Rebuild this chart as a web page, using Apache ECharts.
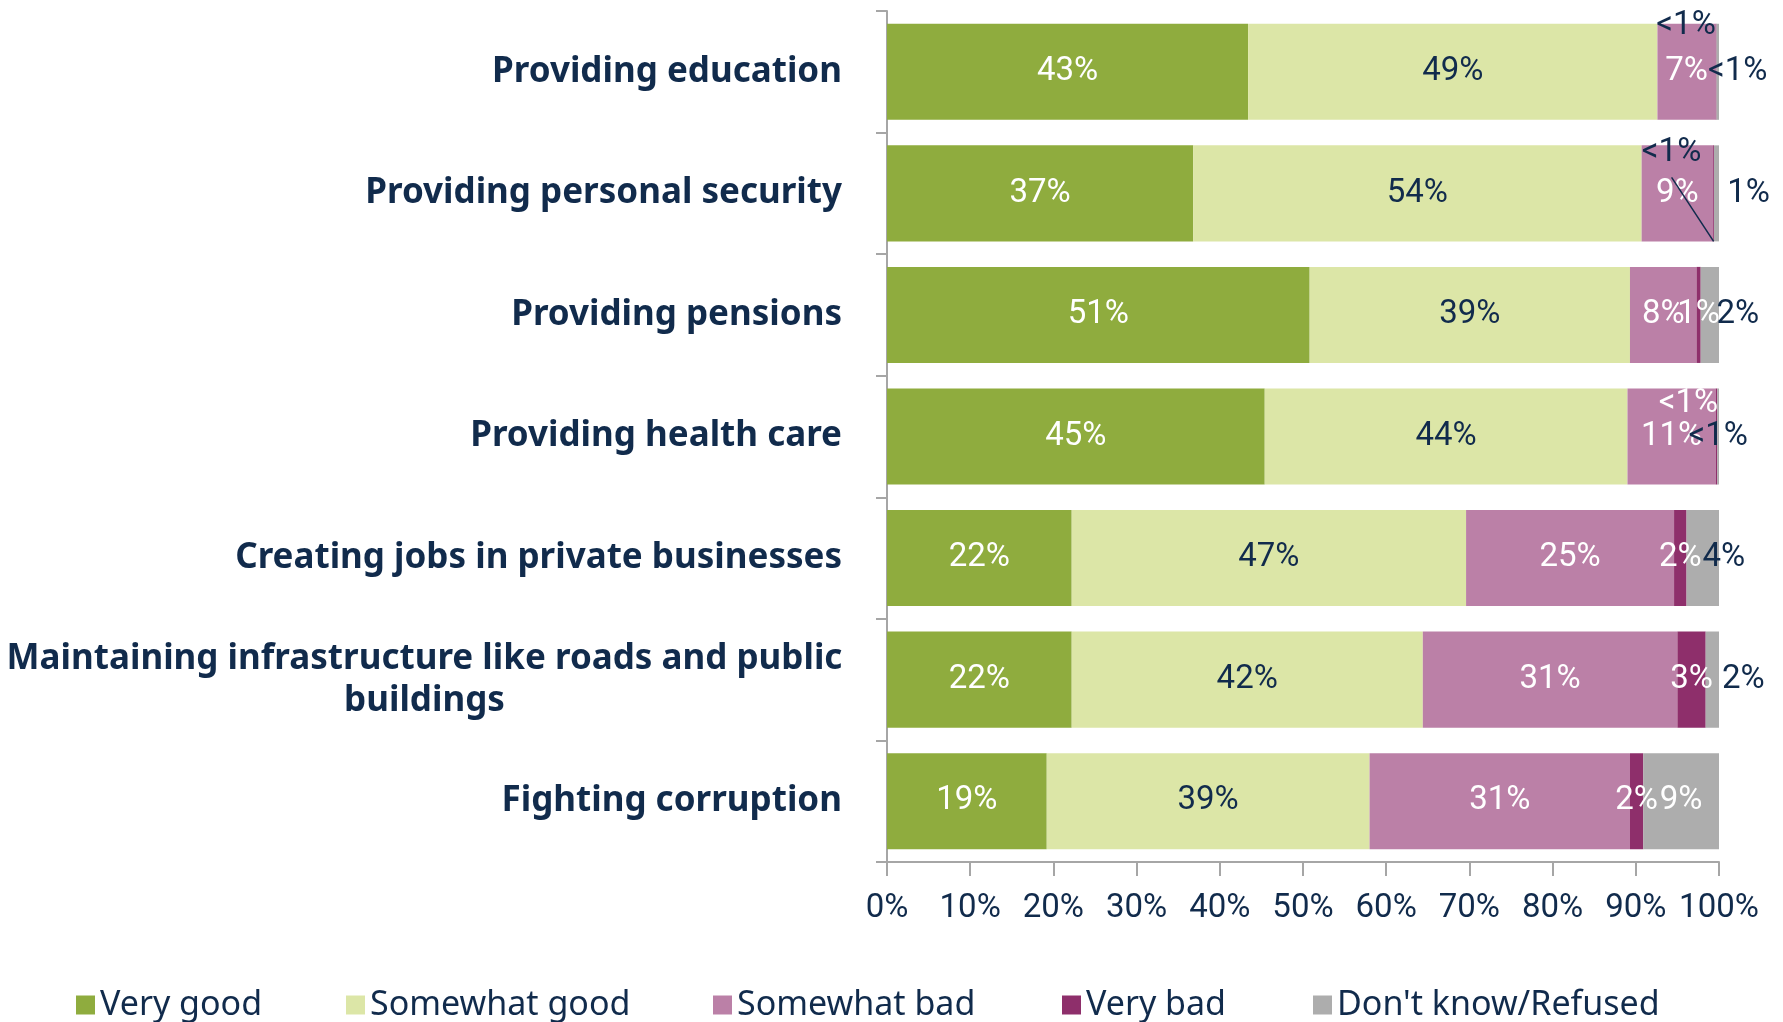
<!DOCTYPE html>
<html>
<head>
<meta charset="utf-8">
<script src="https://cdn.jsdelivr.net/npm/echarts@6/dist/echarts.min.js"></script>
<style>
  html, body { margin: 0; padding: 0; background: #fff; }
  #chart { width: 1783px; height: 1022px; }
</style>
</head>
<body>
<div id="chart"></div>
<script>
// categories, top to bottom
const categories = [
  'Providing education',
  'Providing personal security',
  'Providing pensions',
  'Providing health care',
  'Creating jobs in private businesses',
  'Maintaining infrastructure like roads and public\nbuildings',
  'Fighting corruption'
];
const seriesNames = ['Very good', 'Somewhat good', 'Somewhat bad', 'Very bad', "Don't know/Refused"];

// percentages
const veryGood     = [43.4, 36.8, 50.8, 45.4, 22.2, 22.2, 19.2];
const somewhatGood = [49.2, 53.9, 38.5, 43.6, 47.4, 42.2, 38.8];
const somewhatBad  = [7.0, 8.6, 8.0, 10.6, 25.0, 30.6, 31.3];
const veryBad      = [0.1, 0.1, 0.5, 0.2, 1.5, 3.4, 1.6];
const dontKnow     = [0.3, 0.6, 2.2, 0.2, 3.9, 1.6, 9.1];

const xTicks = [0, 100, 10]; // min, max, interval

const NAVY = '#112b4c';
const AXIS = '#a6a6a6';
const colors = ['#8fac3e', '#dce6a7', '#bb80a7', '#8e2f6b', '#adadad'];
const numFont = 'Roboto, "Noto Sans", sans-serif';
const txtFont = '"Noto Sans", sans-serif';

function pct(v) {
    return v < 0.5 ? '<1%' : Math.round(v) + '%';
}

// labels the original moved around
const veryBadShift = {
    0: { dx: -30, dy: -46 },
    1: { dx: -42, dy: -41 },
    3: { dx: -28, dy: -33 }
};
const labelTweaks = {
    3: {
        0: { label: { color: NAVY } },
        1: { label: { color: NAVY } }
    },
    4: {
        0: { label: { offset: [20, 0] } },
        1: { label: { offset: [32, 0] } },
        2: { label: { offset: [28, 0] } },
        4: { label: { offset: [21, 0] } },
        5: { label: { offset: [31, 0] } },
        6: { label: { color: '#fff' } }
    }
};
const labelColors = ['#fff', NAVY, '#fff', '#fff', NAVY];
const legendLeft = [76, 346, 713, 1062, 1313];

const chartDom = document.getElementById('chart');
const myChart = echarts.init(chartDom);

const series = [veryGood, somewhatGood, somewhatBad, veryBad, dontKnow].map((vals, s) => ({
    name: seriesNames[s],
    type: 'bar',
    stack: 'total',
    barCategoryGap: '21%',
    itemStyle: { color: colors[s] },
    label: {
        show: true,
        position: 'inside',
        color: labelColors[s],
        fontFamily: numFont,
        fontSize: 33,
        formatter: p => pct(p.value)
    },
    labelLayout: s === 3 ? (p => veryBadShift[p.dataIndex] || {}) : undefined,
    emphasis: { disabled: true },
    data: vals.map((v, i) => Object.assign({ value: v }, (labelTweaks[s] || {})[i] || {}))
}));

// leader line from the moved "<1%" label of personal security down to its sliver
const leaderRow = 1;
const leaderX = veryGood[leaderRow] + somewhatGood[leaderRow] + somewhatBad[leaderRow] + veryBad[leaderRow] / 2;
series.push({
    type: 'custom',
    silent: true,
    z: 5,
    data: [[leaderX, leaderRow]],
    renderItem: (params, api) => {
        const p = api.coord([api.value(0), api.value(1)]);
        const band = api.size([0, 1])[1];
        return {
            type: 'line',
            shape: { x1: p[0] - 42, y1: p[1] - 16, x2: p[0], y2: p[1] + band * 0.79 / 2 },
            style: { stroke: NAVY, lineWidth: 1.5 }
        };
    }
});

const option = {
    animation: false,
    color: colors,
    grid: { left: 887, right: 64, top: 11, bottom: 160, containLabel: false },
    legend: seriesNames.map((name, i) => ({
        data: [name],
        left: legendLeft[i],
        top: 985,
        padding: 0,
        icon: 'rect',
        itemWidth: 19,
        itemHeight: 19,
        textStyle: { color: NAVY, fontFamily: txtFont, fontSize: 34, lineHeight: 40 }
    })),
    xAxis: {
        type: 'value',
        min: xTicks[0],
        max: xTicks[1],
        interval: xTicks[2],
        axisLine: { show: true, lineStyle: { color: AXIS, width: 2 } },
        axisTick: { show: true, length: 14, lineStyle: { color: AXIS, width: 2 } },
        splitLine: { show: false },
        axisLabel: {
            color: NAVY,
            fontFamily: numFont,
            fontSize: 33,
            margin: 30,
            showMinLabel: true,
            showMaxLabel: true,
            hideOverlap: false,
            formatter: '{value}%'
        }
    },
    yAxis: {
        type: 'category',
        inverse: true,
        data: categories,
        axisLine: { show: true, lineStyle: { color: AXIS, width: 2 } },
        axisTick: { show: true, length: 11, lineStyle: { color: AXIS, width: 2 } },
        axisLabel: {
            color: NAVY,
            fontFamily: txtFont,
            fontWeight: 'bold',
            fontSize: 35,
            margin: 45,
            formatter: v => v.indexOf('\n') < 0 ? v : v.split('\n').map(s => '{c|' + s + '}').join('\n'),
            rich: {
                c: {
                    width: 835,
                    align: 'center',
                    color: NAVY,
                    fontFamily: txtFont,
                    fontWeight: 'bold',
                    fontSize: 35,
                    lineHeight: 42
                }
            }
        }
    },
    series: series
};

myChart.setOption(option);
</script>
</body>
</html>
